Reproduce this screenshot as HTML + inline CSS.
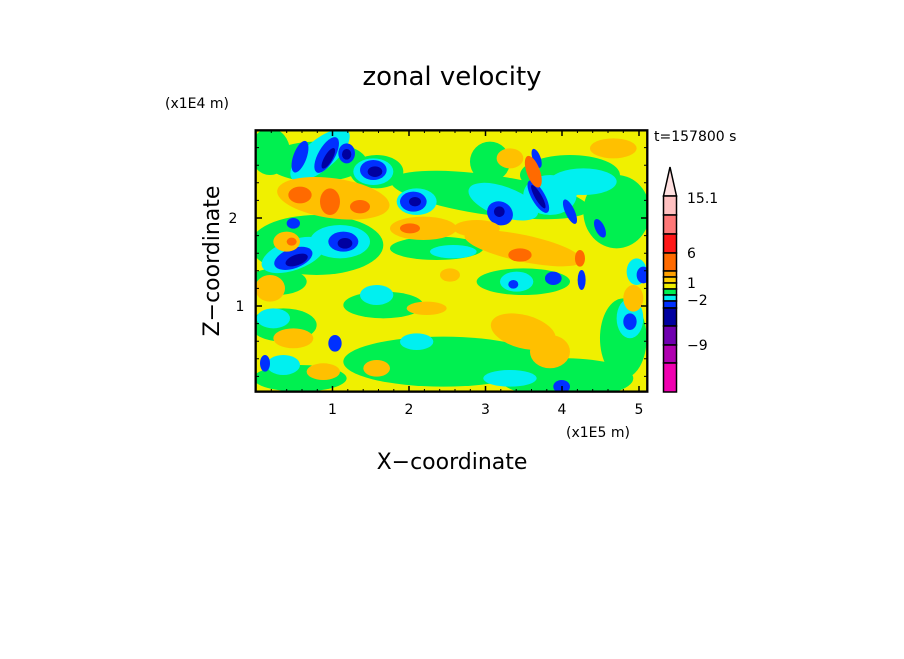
<!DOCTYPE html>
<html><head><style>
body{margin:0;background:#fff;}
svg text{font-family:"DejaVu Sans","Liberation Sans",sans-serif;fill:#000;}
</style></head><body>
<svg width="904" height="654" viewBox="0 0 904 654" xmlns="http://www.w3.org/2000/svg">
<rect width="904" height="654" fill="#fff"/>
<defs><clipPath id="c"><rect x="17" y="16" width="1175" height="784"/></clipPath></defs>
<g transform="translate(250,125) scale(0.3333)">
<g clip-path="url(#c)">
<rect x="0" y="0" width="1200" height="820" fill="#f0f000"/>
<g fill="#00f050">
<ellipse cx="60" cy="80" rx="60" ry="70"/>
<ellipse cx="200" cy="110" rx="150" ry="60"/>
<ellipse cx="380" cy="140" rx="80" ry="50"/>
<ellipse cx="200" cy="360" rx="200" ry="90"/>
<ellipse cx="80" cy="470" rx="90" ry="40"/>
<ellipse cx="720" cy="210" rx="300" ry="60" transform="rotate(8 720 210)"/>
<ellipse cx="960" cy="150" rx="150" ry="60"/>
<ellipse cx="1100" cy="260" rx="100" ry="110"/>
<ellipse cx="560" cy="370" rx="140" ry="35"/>
<ellipse cx="820" cy="470" rx="140" ry="40"/>
<ellipse cx="580" cy="710" rx="300" ry="75"/>
<ellipse cx="400" cy="540" rx="120" ry="40"/>
<ellipse cx="950" cy="760" rx="200" ry="60"/>
<ellipse cx="100" cy="600" rx="100" ry="50"/>
<ellipse cx="150" cy="760" rx="140" ry="40"/>
<ellipse cx="1120" cy="640" rx="70" ry="120"/>
<ellipse cx="720" cy="110" rx="60" ry="60"/>
</g>
<g fill="#00f0f0">
<ellipse cx="210" cy="90" rx="110" ry="45" transform="rotate(-40 210 90)"/>
<ellipse cx="370" cy="140" rx="60" ry="40"/>
<ellipse cx="270" cy="350" rx="90" ry="50"/>
<ellipse cx="130" cy="390" rx="100" ry="45" transform="rotate(-20 130 390)"/>
<ellipse cx="500" cy="230" rx="60" ry="40"/>
<ellipse cx="760" cy="230" rx="110" ry="45" transform="rotate(20 760 230)"/>
<ellipse cx="900" cy="210" rx="80" ry="60"/>
<ellipse cx="1000" cy="170" rx="100" ry="40"/>
<ellipse cx="610" cy="380" rx="70" ry="20"/>
<ellipse cx="380" cy="510" rx="50" ry="30"/>
<ellipse cx="500" cy="650" rx="50" ry="25"/>
<ellipse cx="800" cy="470" rx="50" ry="30"/>
<ellipse cx="70" cy="580" rx="50" ry="30"/>
<ellipse cx="100" cy="720" rx="50" ry="30"/>
<ellipse cx="780" cy="760" rx="80" ry="25"/>
<ellipse cx="1140" cy="580" rx="40" ry="60"/>
<ellipse cx="1160" cy="440" rx="30" ry="40"/>
</g>
<g fill="#0030ff">
<ellipse cx="150" cy="95" rx="20" ry="50" transform="rotate(20 150 95)"/>
<ellipse cx="230" cy="90" rx="25" ry="60" transform="rotate(30 230 90)"/>
<ellipse cx="290" cy="85" rx="25" ry="30"/>
<ellipse cx="370" cy="135" rx="40" ry="30"/>
<ellipse cx="130" cy="295" rx="20" ry="16"/>
<ellipse cx="280" cy="350" rx="45" ry="30"/>
<ellipse cx="130" cy="400" rx="60" ry="30" transform="rotate(-20 130 400)"/>
<ellipse cx="490" cy="230" rx="40" ry="30"/>
<ellipse cx="750" cy="265" rx="40" ry="35" transform="rotate(30 750 265)"/>
<ellipse cx="865" cy="215" rx="20" ry="55" transform="rotate(-30 865 215)"/>
<ellipse cx="960" cy="260" rx="14" ry="40" transform="rotate(-25 960 260)"/>
<ellipse cx="1050" cy="310" rx="14" ry="30" transform="rotate(-25 1050 310)"/>
<ellipse cx="910" cy="460" rx="25" ry="20"/>
<ellipse cx="995" cy="465" rx="12" ry="30"/>
<ellipse cx="790" cy="478" rx="15" ry="13"/>
<ellipse cx="255" cy="655" rx="20" ry="25"/>
<ellipse cx="45" cy="715" rx="15" ry="25"/>
<ellipse cx="1140" cy="590" rx="20" ry="25"/>
<ellipse cx="935" cy="785" rx="25" ry="20"/>
<ellipse cx="860" cy="100" rx="12" ry="30" transform="rotate(-20 860 100)"/>
<ellipse cx="1180" cy="450" rx="20" ry="25"/>
</g>
<g fill="#0000a0">
<ellipse cx="235" cy="100" rx="12" ry="35" transform="rotate(30 235 100)"/>
<ellipse cx="290" cy="88" rx="14" ry="16"/>
<ellipse cx="375" cy="140" rx="22" ry="16"/>
<ellipse cx="140" cy="405" rx="35" ry="16" transform="rotate(-20 140 405)"/>
<ellipse cx="285" cy="355" rx="22" ry="16"/>
<ellipse cx="495" cy="230" rx="18" ry="14"/>
<ellipse cx="748" cy="260" rx="16" ry="16"/>
<ellipse cx="865" cy="215" rx="10" ry="40" transform="rotate(-30 865 215)"/>
</g>
<g fill="#ffc000">
<ellipse cx="250" cy="220" rx="170" ry="60" transform="rotate(8 250 220)"/>
<ellipse cx="520" cy="310" rx="100" ry="35"/>
<ellipse cx="820" cy="370" rx="180" ry="40" transform="rotate(12 820 370)"/>
<ellipse cx="680" cy="310" rx="70" ry="25"/>
<ellipse cx="110" cy="350" rx="40" ry="30"/>
<ellipse cx="60" cy="490" rx="45" ry="40"/>
<ellipse cx="130" cy="640" rx="60" ry="30"/>
<ellipse cx="220" cy="740" rx="50" ry="25"/>
<ellipse cx="820" cy="620" rx="100" ry="50" transform="rotate(15 820 620)"/>
<ellipse cx="900" cy="680" rx="60" ry="50"/>
<ellipse cx="1090" cy="70" rx="70" ry="30"/>
<ellipse cx="780" cy="100" rx="40" ry="30"/>
<ellipse cx="530" cy="550" rx="60" ry="20"/>
<ellipse cx="1150" cy="520" rx="30" ry="40"/>
<ellipse cx="600" cy="450" rx="30" ry="20"/>
<ellipse cx="380" cy="730" rx="40" ry="25"/>
</g>
<g fill="#ff6a00">
<ellipse cx="150" cy="210" rx="35" ry="25"/>
<ellipse cx="240" cy="230" rx="30" ry="40"/>
<ellipse cx="330" cy="245" rx="30" ry="20"/>
<ellipse cx="850" cy="140" rx="20" ry="50" transform="rotate(-20 850 140)"/>
<ellipse cx="810" cy="390" rx="35" ry="20"/>
<ellipse cx="990" cy="400" rx="15" ry="25"/>
<ellipse cx="480" cy="310" rx="30" ry="15"/>
<ellipse cx="125" cy="350" rx="15" ry="12"/>
</g>
</g>
<rect x="17" y="16" width="1175" height="784" fill="none" stroke="#000" stroke-width="7"/>
</g>
<g stroke="#000" stroke-width="1.5">
<path d="M332.5 392v-6M409 392v-6M485.5 392v-6M562 392v-6M639 392v-6M332.5 130v6M409 130v6M485.5 130v6M562 130v6M639 130v6M256 218h6M256 306h6M647 218h-6M647 306h-6"/>
</g>
<g stroke="#000" stroke-width="1">
<path d="M271.3 392v-3M286.7 392v-3M302 392v-3M317.3 392v-3M347.8 392v-3M363.2 392v-3M378.5 392v-3M393.8 392v-3M424.4 392v-3M439.7 392v-3M455 392v-3M470.3 392v-3M500.8 392v-3M516.2 392v-3M531.5 392v-3M546.8 392v-3M577.4 392v-3M592.7 392v-3M608 392v-3M623.3 392v-3
M271.3 130v3M286.7 130v3M302 130v3M317.3 130v3M347.8 130v3M363.2 130v3M378.5 130v3M393.8 130v3M424.4 130v3M439.7 130v3M455 130v3M470.3 130v3M500.8 130v3M516.2 130v3M531.5 130v3M546.8 130v3M577.4 130v3M592.7 130v3M608 130v3M623.3 130v3
M256 376.4h3M256 358.8h3M256 341.2h3M256 323.6h3M256 288.4h3M256 270.8h3M256 253.2h3M256 235.6h3M256 200.4h3M256 182.8h3M256 165.2h3M256 147.6h3
M647 376.4h-3M647 358.8h-3M647 341.2h-3M647 323.6h-3M647 288.4h-3M647 270.8h-3M647 253.2h-3M647 235.6h-3M647 200.4h-3M647 182.8h-3M647 165.2h-3M647 147.6h-3"/>
</g>
<g stroke="#000" stroke-width="1.5">
<polygon points="663.5,196 670,167 676.5,196" fill="#ffe0e0"/>
<rect x="663.5" y="196" width="13" height="19" fill="#ffc0c0"/>
<rect x="663.5" y="215" width="13" height="19" fill="#ff7878"/>
<rect x="663.5" y="234" width="13" height="19" fill="#ff1818"/>
<rect x="663.5" y="253" width="13" height="18" fill="#ff6a00"/>
<rect x="663.5" y="271" width="13" height="6" fill="#ffa000"/>
<rect x="663.5" y="277" width="13" height="6" fill="#ffd000"/>
<rect x="663.5" y="283" width="13" height="6" fill="#f0f000"/>
<rect x="663.5" y="289" width="13" height="6" fill="#00f050"/>
<rect x="663.5" y="295" width="13" height="6" fill="#00f0f0"/>
<rect x="663.5" y="301" width="13" height="7" fill="#0030ff"/>
<rect x="663.5" y="308" width="13" height="18" fill="#0000a0"/>
<rect x="663.5" y="326" width="13" height="19" fill="#7000b0"/>
<rect x="663.5" y="345" width="13" height="18" fill="#b000b0"/>
<rect x="663.5" y="363" width="13" height="29" fill="#f000b0"/>
</g>
<g font-size="14">
<text x="687" y="203">15.1</text>
<text x="687" y="258">6</text>
<text x="687" y="288">1</text>
<text x="687" y="305">−2</text>
<text x="687" y="350">−9</text>
<text x="654" y="141">t=157800 s</text>
<text x="165" y="108">(x1E4 m)</text>
<text x="566" y="437">(x1E5 m)</text>
<text x="233" y="223" text-anchor="middle">2</text>
<text x="240" y="311" text-anchor="middle">1</text>
<text x="332.5" y="414" text-anchor="middle">1</text>
<text x="409" y="414" text-anchor="middle">2</text>
<text x="485.5" y="414" text-anchor="middle">3</text>
<text x="562" y="414" text-anchor="middle">4</text>
<text x="639" y="414" text-anchor="middle">5</text>
</g>
<text x="452" y="85" font-size="26" text-anchor="middle">zonal velocity</text>
<text x="452" y="469" font-size="22" text-anchor="middle">X−coordinate</text>
<text x="219" y="261" font-size="22" text-anchor="middle" transform="rotate(-90 219 261)">Z−coordinate</text>
</svg>
</body></html>
